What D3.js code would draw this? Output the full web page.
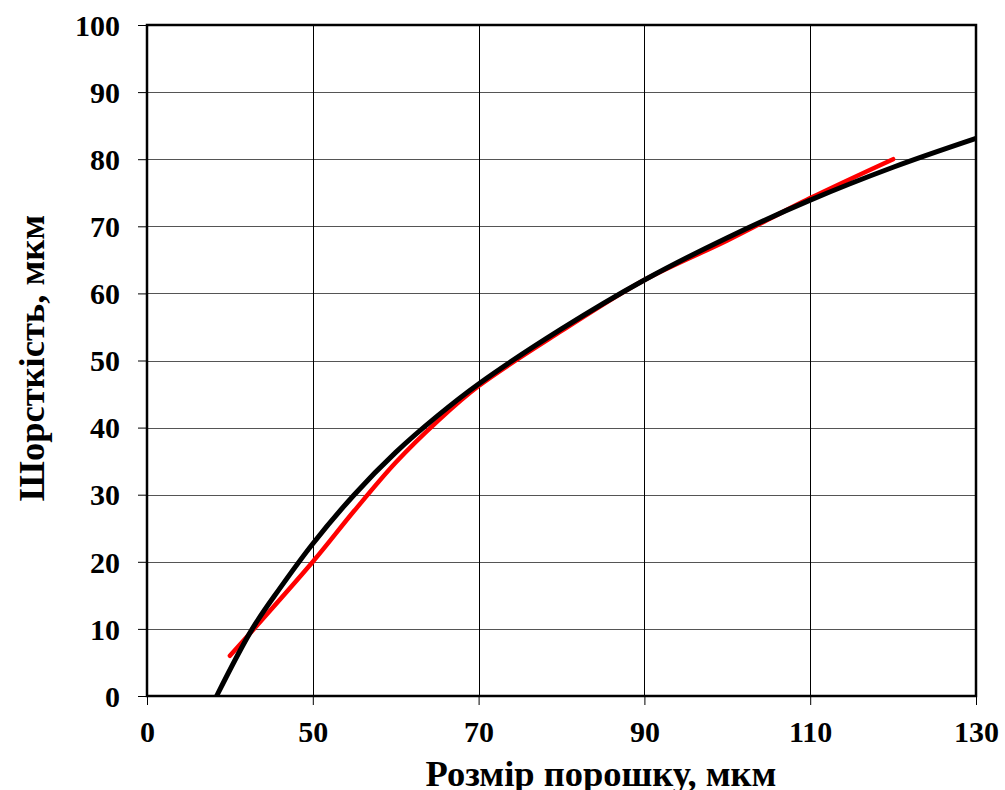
<!DOCTYPE html>
<html>
<head>
<meta charset="utf-8">
<script src="https://cdn.jsdelivr.net/npm/d3@7"></script>
<style>
  html, body { margin: 0; padding: 0; background: #fff; }
  svg { display: block; }
</style>
</head>
<body>
<svg id="chart" width="1005" height="790"></svg>
<script>
// ---- data ----
const xTickValues = [30, 50, 70, 90, 110, 130];
const xTickLabels = ["0", "50", "70", "90", "110", "130"];
const yTickValues = [0, 10, 20, 30, 40, 50, 60, 70, 80, 90, 100];
const yTickLabels = ["0", "10", "20", "30", "40", "50", "60", "70", "80", "90", "100"];

// red: measured series
const redX = [40, 50, 55, 60, 65, 70, 80, 90, 100, 110, 120];
const redY = [6, 20, 27.6, 34.8, 40.9, 46.2, 54.4, 62, 67.9, 74.2, 80];

// black: trend curve
const blackX = [38.4, 42.7, 46, 50, 55, 60, 65, 70, 80, 90, 100, 110, 120, 130];
const blackY = [0, 10, 16, 22.7, 30.0, 36.3, 41.7, 46.5, 54.7, 62.0, 68.3, 73.9, 78.8, 83.1];

const xTitle = "Розмір порошку, мкм";
const yTitle = "Шорсткість, мкм";

// ---- layout ----
const pLeft = 147, pRight = 976, pTop = 25, pBottom = 696;
const svg = d3.select("#chart");
const font = "'Liberation Serif', 'Times New Roman', serif";

const x = d3.scaleLinear().domain([30, 130]).range([pLeft, pRight]);
const y = d3.scaleLinear().domain([0, 100]).range([pBottom, pTop]);

// grid
const grid = svg.append("g");
grid.selectAll("line.h").data(yTickValues.slice(1, -1)).join("line")
  .attr("x1", pLeft).attr("x2", pRight)
  .attr("y1", d => Math.round(y(d)) + 0.5).attr("y2", d => Math.round(y(d)) + 0.5)
  .attr("stroke", "#555").attr("stroke-width", 1);
grid.selectAll("line.v").data(xTickValues.slice(1, -1)).join("line")
  .attr("y1", pTop).attr("y2", pBottom)
  .attr("x1", d => Math.round(x(d)) + 0.5).attr("x2", d => Math.round(x(d)) + 0.5)
  .attr("stroke", "#000").attr("stroke-width", 1);

// axes
const xAxis = d3.axisBottom(x).tickValues(xTickValues)
  .tickFormat((d, i) => xTickLabels[i]).tickSize(9).tickPadding(16);
const yAxis = d3.axisLeft(y).tickValues(yTickValues)
  .tickFormat((d, i) => yTickLabels[i]).tickSize(9).tickPadding(18);

const gx = svg.append("g").attr("transform", `translate(0,${pBottom})`).call(xAxis);
const gy = svg.append("g").attr("transform", `translate(${pLeft},0)`).call(yAxis);
[gx, gy].forEach(g => {
  g.select(".domain").remove();
  g.selectAll(".tick line").attr("stroke", "#000").attr("stroke-width", 1);
  g.selectAll(".tick text")
    .attr("font-family", font).attr("font-weight", "bold")
    .attr("font-size", 30).attr("fill", "#000");
});
gx.selectAll(".tick text").attr("dy", "0.71em");
gy.selectAll(".tick text").attr("dy", "0.34em");

// lines
const lineGen = d3.line().curve(d3.curveCatmullRom.alpha(0.5))
  .x(d => x(d[0])).y(d => y(d[1]));

svg.append("path")
  .datum(redX.map((v, i) => [v, redY[i]]))
  .attr("d", lineGen)
  .attr("fill", "none").attr("stroke", "#ff0000")
  .attr("stroke-width", 4.5).attr("stroke-linecap", "round").attr("stroke-linejoin", "round");

svg.append("path")
  .datum(blackX.map((v, i) => [v, blackY[i]]))
  .attr("d", lineGen)
  .attr("fill", "none").attr("stroke", "#000")
  .attr("stroke-width", 5).attr("stroke-linejoin", "round");

// frame
svg.append("rect")
  .attr("x", pLeft).attr("y", pTop)
  .attr("width", pRight - pLeft).attr("height", pBottom - pTop)
  .attr("fill", "none").attr("stroke", "#000").attr("stroke-width", 2.5);

// titles
svg.append("text")
  .attr("x", 601).attr("y", 786)
  .attr("text-anchor", "middle")
  .attr("font-family", font).attr("font-weight", "bold").attr("font-size", 36.5)
  .text(xTitle);

svg.append("text")
  .attr("transform", `translate(44,358) rotate(-90)`)
  .attr("text-anchor", "middle")
  .attr("font-family", font).attr("font-weight", "bold").attr("font-size", 36.5)
  .text(yTitle);
</script>
</body>
</html>
